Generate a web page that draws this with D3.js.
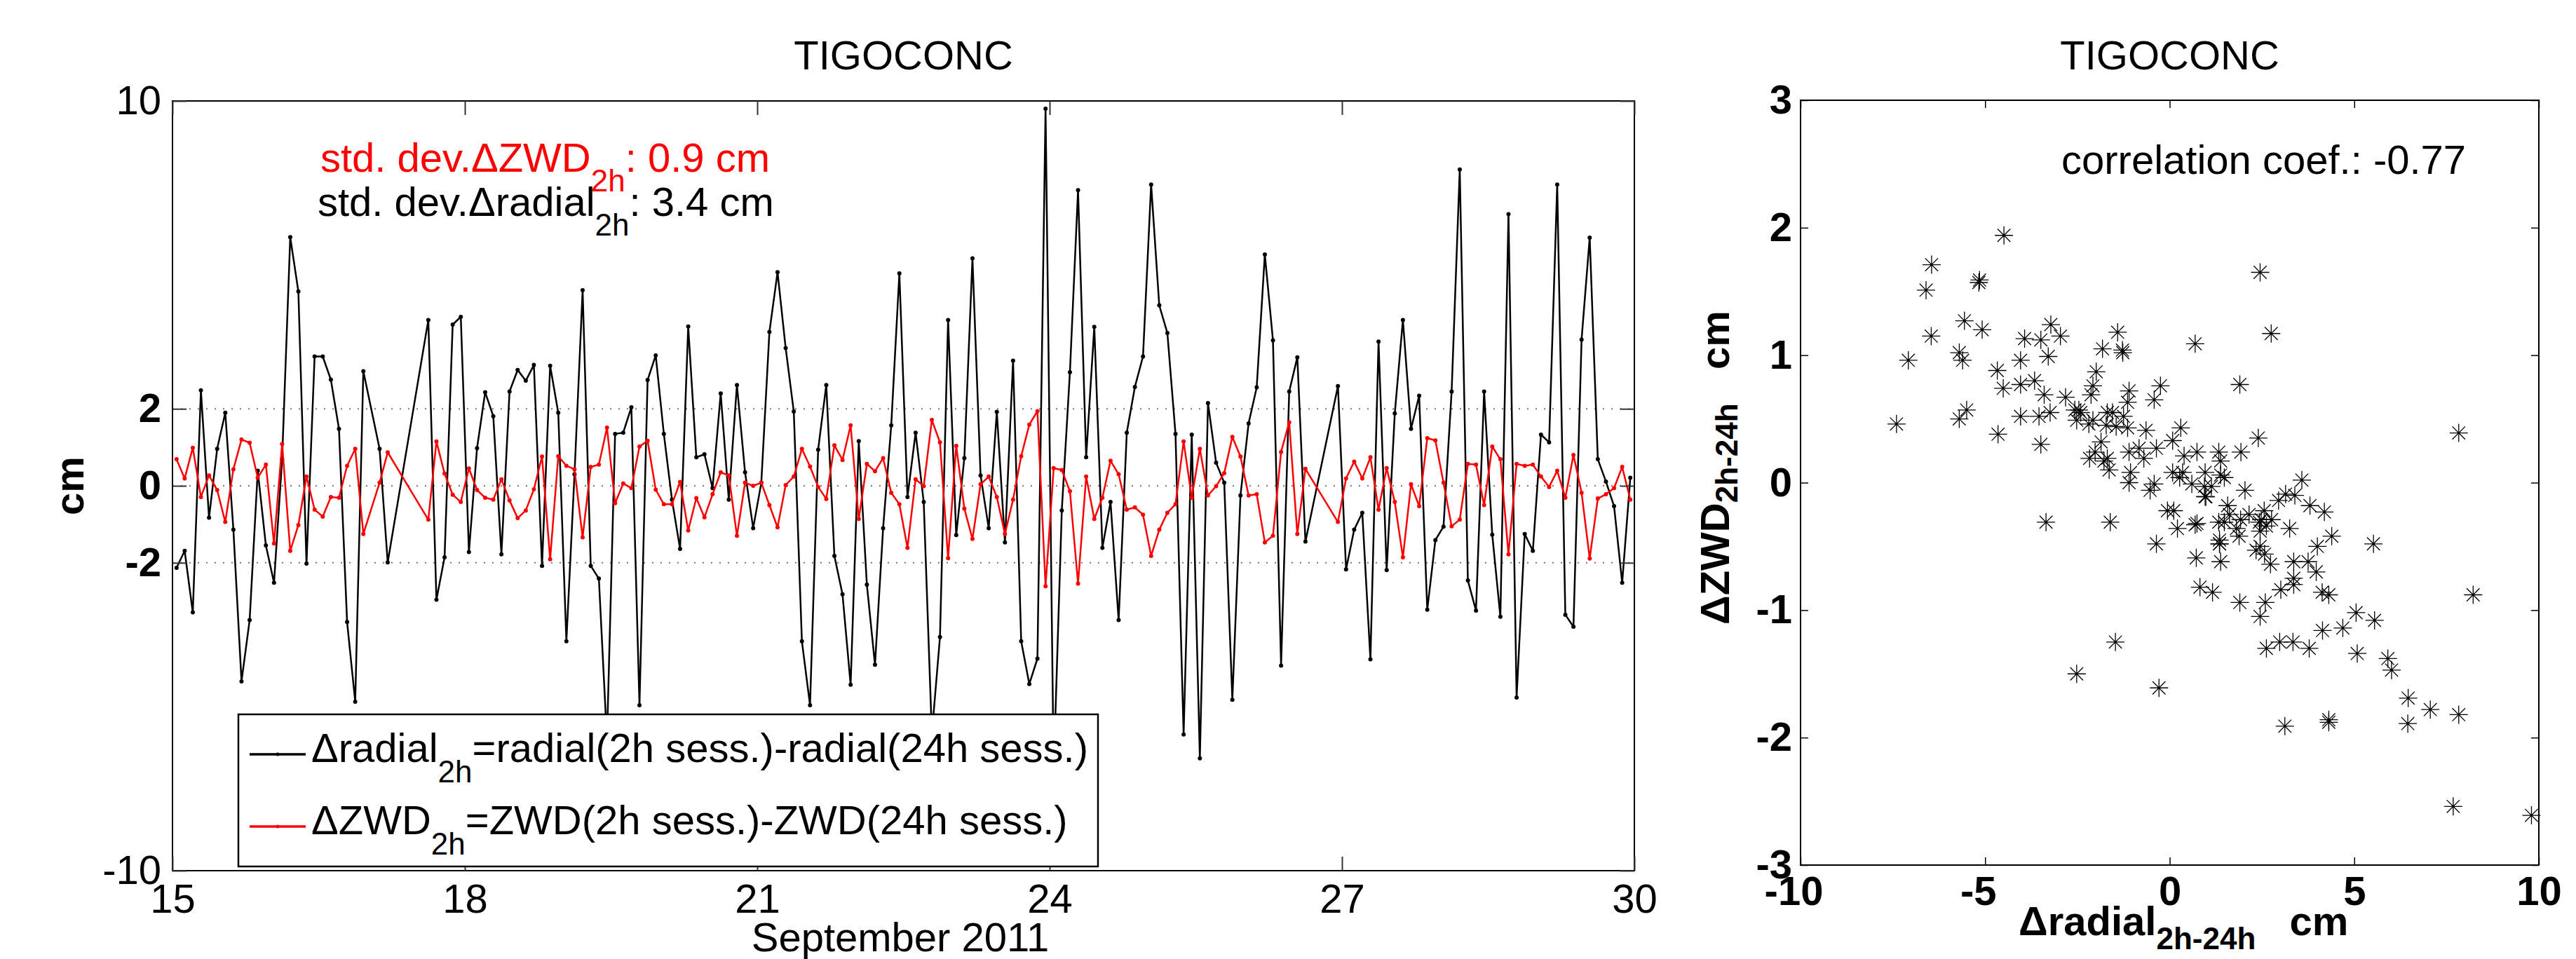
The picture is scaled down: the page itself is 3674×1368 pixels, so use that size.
<!DOCTYPE html>
<html>
<head>
<meta charset="utf-8">
<script src="https://cdn.jsdelivr.net/npm/d3@7"></script>
<style>
  body { margin: 0; background: #fff; }
  text { font-family: "Liberation Sans", Arial, Helvetica, sans-serif; }
</style>
</head>
<body>
<svg id="chart"></svg>
<script>
var width = 3674
var height = 1368

// 2h sessions, 15-30 September 2011 (12 per day), null = no session
var radial = [
  -2.13, -1.69, -3.29, 2.48, -0.83, 0.96, 1.90, -1.14, -5.08, -3.49, 0.39, -1.55,
  -2.52, 0.69, 6.46, 5.05, -2.02, 3.36, 3.36, 2.76, 1.48, -3.54, -5.61, 2.98,
  null, 0.96, -1.99, null, null, null, null, 4.31, -2.96, -1.86, 4.19, 4.39,
  -1.72, 0.98, 2.43, 1.81, -1.78, 2.45, 3.01, 2.73, 3.14, -2.08, 3.12, 1.90,
  -4.04, 0.30, 5.08, -2.08, -2.41, -6.60, 1.35, 1.38, 2.04, -5.70, 2.75, 3.39,
  1.35, -0.36, -1.64, 4.14, 0.74, 0.82, -0.06, 2.40, -0.36, 2.62, 0.35, -1.10,
  0.08, 4.00, 5.55, 3.58, 1.93, -4.04, -5.70, 0.94, 2.62, -1.82, -2.82, -5.17,
  1.16, -2.57, -4.65, -1.10, 1.57, 5.52, -0.29, 1.38, -0.42, -6.45, -3.93, 4.31,
  -1.28, 0.72, 5.91, 0.27, -1.10, 1.92, -1.47, 3.25, -4.04, -5.15, -4.49, 9.80,
  -7.40, -0.64, 2.95, 7.68, 0.74, 4.13, -1.61, -0.42, -3.49, 1.38, 2.57, 3.36,
  7.83, 4.69, 3.97, 1.35, -6.46, 1.33, -7.08, 2.15, 0.60, 0.08, -5.56, -0.25,
  1.62, 2.56, 6.01, 3.78, -4.67, 2.45, 3.34, -1.45, null, null, null, 2.59,
  -2.17, -1.14, -0.70, -4.51, 3.75, -2.19, 1.88, 4.31, 1.48, 2.34, -3.22, -1.41,
  -1.06, 2.45, 8.22, -2.46, -3.24, 2.45, -1.27, -3.40, 7.06, -5.50, -1.25, -1.69,
  1.33, 1.13, 7.83, -3.35, -3.66, 3.80, 6.45, 0.69, 0.11, -0.53, -2.52, 0.21
]
var zwd = [
  0.69, 0.19, 0.99, -0.29, 0.27, -0.11, -0.94, 0.43, 1.20, 1.12, 0.21, 0.55,
  -1.50, 1.09, -1.69, -1.02, 0.24, -0.62, -0.80, -0.29, -0.31, 0.52, 0.96, -1.25,
  null, 0.08, 0.87, null, null, null, null, -0.88, 1.15, 0.32, -0.23, -0.42,
  0.45, -0.11, -0.31, -0.36, 0.17, -0.38, -0.84, -0.64, -0.09, 0.76, -1.91, 0.77,
  0.52, 0.43, -1.34, 0.49, 0.55, 1.51, -0.45, 0.06, -0.06, 1.02, 1.17, -0.10,
  -0.48, -0.48, 0.10, -1.16, -0.32, -0.82, -0.22, 0.35, 0.27, -1.30, 0.08, 0.00,
  0.08, -0.50, -1.08, 0.02, 0.24, 0.96, 0.50, -0.03, -0.34, 1.05, 0.67, 1.57,
  -0.86, 0.57, 0.38, 0.72, -0.18, -0.48, -1.61, 0.17, -0.01, 1.71, 1.13, -1.88,
  1.04, -0.59, -1.38, 0.04, 0.24, -0.29, -1.25, -0.36, 0.77, 1.59, 1.94, -2.61,
  0.46, 0.41, -0.14, -2.54, 0.24, -0.86, -0.31, 0.65, 0.30, -0.62, -0.56, -0.75,
  -1.82, -1.14, -0.70, -0.48, 1.15, -0.31, 0.96, -0.25, -0.01, 0.33, 1.27, 0.76,
  -0.25, -0.22, -1.47, -1.30, 0.88, 1.65, -1.25, 0.44, null, null, null, -0.94,
  0.19, 0.63, 0.19, 0.74, -0.62, 0.46, -0.42, -1.86, 0.04, -0.53, 1.24, 1.18,
  0.08, -1.05, -0.88, 0.57, 0.55, -0.50, 1.02, 0.69, -1.78, 0.57, 0.52, 0.55,
  0.24, -0.03, 0.39, -0.31, 0.80, -0.18, -1.89, -0.33, -0.22, -0.06, 0.49, -0.36
]
var firstDay = 15
var sessionHours = 2

var dayTicks = [15, 18, 21, 24, 27, 30]
var cmTicks = [10, 2, 0, -2, -10]
var gridValues = [2, 0, -2]
var scatterXTicks = [-10, -5, 0, 5, 10]
var scatterYTicks = [3, 2, 1, 0, -1, -2, -3]

var stationName = "TIGOCONC"
var stdZwd = "0.9"
var stdRadial = "3.4"
var corrCoef = "-0.77"

var sessions = radial.map((r, i) => ({
  day: firstDay + (i * sessionHours + sessionHours / 2) / 24,
  radial: r,
  zwd: zwd[i]
})).filter(d => d.radial != null && d.zwd != null)

var svg = d3.select("#chart").attr("width", width).attr("height", height)
svg.append("rect").attr("width", width).attr("height", height).attr("fill", "#fff")

var FS = 58
var plain = d => String(d)   // hyphen minus like the original

// text with subscripts: parts = [[text, isSub], ...]
function richText(g, x, y, parts, opts) {
  opts = opts || {}
  var t = g.append("text").attr("x", x).attr("y", y)
    .attr("font-size", FS)
    .attr("fill", opts.fill || "#000")
    .attr("font-weight", opts.bold ? "bold" : "normal")
    .style("white-space", "pre")
  if (opts.transform) t.attr("transform", opts.transform)
  var shift = opts.subShift || 28
  var down = false
  parts.forEach(p => {
    var s = t.append("tspan").text(p[0])
    if (p[1]) { s.attr("font-size", 44); if (!down) { s.attr("dy", shift); down = true } }
    else if (down) { s.attr("dy", -shift); down = false }
  })
  return t
}

/* ---------- left: time series ---------- */
var L = { left: 246, right: 2331, top: 144, bottom: 1242 }
var x = d3.scaleLinear().domain([15, 30]).range([L.left, L.right])
var y = d3.scaleLinear().domain([-10, 10]).range([L.bottom, L.top])

var left = svg.append("g")

left.selectAll(".grid").data(gridValues).enter().append("line")
  .attr("x1", L.left).attr("x2", L.right)
  .attr("y1", d => y(d)).attr("y2", d => y(d))
  .attr("stroke", "#777").attr("stroke-width", 2).attr("stroke-dasharray", "2,10")

svg.append("clipPath").attr("id", "clipL").append("rect")
  .attr("x", L.left).attr("y", L.top).attr("width", L.right - L.left).attr("height", L.bottom - L.top)

var plot = left.append("g").attr("clip-path", "url(#clipL)")

function drawSeries(key, color) {
  var line = d3.line().x(d => x(d.day)).y(d => y(d[key]))
  plot.append("path").datum(sessions)
    .attr("d", line).attr("fill", "none")
    .attr("stroke", color).attr("stroke-width", 2.5).attr("stroke-linejoin", "round")
  plot.selectAll(".dot-" + key).data(sessions).enter().append("circle")
    .attr("class", "dot-" + key)
    .attr("cx", d => x(d.day)).attr("cy", d => y(d[key])).attr("r", 3)
    .attr("fill", color)
}
drawSeries("radial", "#000")
drawSeries("zwd", "#ff0000")

// axes box
left.append("rect").attr("x", L.left).attr("y", L.top)
  .attr("width", L.right - L.left).attr("height", L.bottom - L.top)
  .attr("fill", "none").attr("stroke", "#000").attr("stroke-width", 2)

var xAxisB = left.append("g").attr("transform", "translate(0," + L.bottom + ")")
  .call(d3.axisBottom(x).tickValues(dayTicks).tickSizeInner(-20).tickSizeOuter(0).tickPadding(19).tickFormat(plain))
var xAxisT = left.append("g").attr("transform", "translate(0," + L.top + ")")
  .call(d3.axisTop(x).tickValues(dayTicks).tickSizeInner(-20).tickSizeOuter(0).tickFormat(""))
var yAxisL = left.append("g").attr("transform", "translate(" + L.left + ",0)")
  .call(d3.axisLeft(y).tickValues(cmTicks).tickSizeInner(-20).tickSizeOuter(0).tickPadding(16).tickFormat(plain))
var yAxisR = left.append("g").attr("transform", "translate(" + L.right + ",0)")
  .call(d3.axisRight(y).tickValues(cmTicks).tickSizeInner(-20).tickSizeOuter(0).tickFormat(""))

;[xAxisB, xAxisT, yAxisL, yAxisR].forEach(a => {
  a.select(".domain").remove()
  a.selectAll("line").attr("stroke", "#333").attr("stroke-width", 2)
  a.selectAll("text").attr("font-size", FS).attr("fill", "#000")
    .attr("font-family", "Liberation Sans, Arial, sans-serif")
})
yAxisL.selectAll("text").attr("font-weight", d => Math.abs(d) < 10 ? "bold" : "normal")

left.append("text").attr("x", (L.left + L.right) / 2).attr("y", 99)
  .attr("text-anchor", "middle").attr("font-size", FS).text(stationName)
left.append("text").attr("x", 1284).attr("y", 1357)
  .attr("text-anchor", "middle").attr("font-size", FS).text("September 2011")
left.append("text").attr("transform", "translate(119,693) rotate(-90)")
  .attr("text-anchor", "middle").attr("font-size", FS).attr("font-weight", "bold").text("cm")

richText(left, 457, 245, [["std. dev.\u0394ZWD"], ["2h", true], [": " + stdZwd + " cm"]], { fill: "#ff0000" })
richText(left, 453, 308, [["std. dev.\u0394radial"], ["2h", true], [": " + stdRadial + " cm"]])

// legend
var lg = left.append("g")
lg.append("rect").attr("x", 340).attr("y", 1019).attr("width", 1226).attr("height", 217)
  .attr("fill", "#fff").attr("stroke", "#000").attr("stroke-width", 2.5)
var legendItems = [
  { color: "#000", y: 1076, parts: [["\u0394radial"], ["2h", true], ["=radial(2h sess.)-radial(24h sess.)"]] },
  { color: "#ff0000", y: 1179, parts: [["\u0394ZWD"], ["2h", true], ["=ZWD(2h sess.)-ZWD(24h sess.)"]] }
]
legendItems.forEach(it => {
  lg.append("line").attr("x1", 356).attr("x2", 436).attr("y1", it.y).attr("y2", it.y)
    .attr("stroke", it.color).attr("stroke-width", 3.5)
  lg.append("circle").attr("cx", 396).attr("cy", it.y).attr("r", 2.5).attr("fill", it.color)
  richText(lg, 444, it.y + 11, it.parts, { subShift: 29 })
})

/* ---------- right: scatter ---------- */
var R = { left: 2568, right: 3621, top: 143, bottom: 1234 }
var xs = d3.scaleLinear().domain([-10, 10]).range([R.left, R.right])
var ys = d3.scaleLinear().domain([-3, 3]).range([R.bottom, R.top])

var right = svg.append("g")
svg.append("clipPath").attr("id", "clipR").append("rect")
  .attr("x", R.left - 20).attr("y", R.top).attr("width", R.right - R.left + 40).attr("height", R.bottom - R.top)

var star = "M0,-13V13M-13,0H13M-9.2,-9.2L9.2,9.2M-9.2,9.2L9.2,-9.2"
right.append("g").attr("clip-path", "url(#clipR)")
  .selectAll("path").data(sessions).enter().append("path")
  .attr("transform", d => "translate(" + xs(d.radial) + "," + ys(d.zwd) + ")")
  .attr("d", star).attr("fill", "none").attr("stroke", "#000").attr("stroke-width", 1.3)

right.append("rect").attr("x", R.left).attr("y", R.top)
  .attr("width", R.right - R.left).attr("height", R.bottom - R.top)
  .attr("fill", "none").attr("stroke", "#000").attr("stroke-width", 2)

var sxB = right.append("g").attr("transform", "translate(0," + R.bottom + ")")
  .call(d3.axisBottom(xs).tickValues(scatterXTicks).tickSizeInner(-11).tickSizeOuter(0).tickPadding(16).tickFormat(plain))
var sxT = right.append("g").attr("transform", "translate(0," + R.top + ")")
  .call(d3.axisTop(xs).tickValues(scatterXTicks).tickSizeInner(-11).tickSizeOuter(0).tickFormat(""))
var syL = right.append("g").attr("transform", "translate(" + R.left + ",0)")
  .call(d3.axisLeft(ys).tickValues(scatterYTicks).tickSizeInner(-11).tickSizeOuter(0).tickPadding(12).tickFormat(plain))
var syR = right.append("g").attr("transform", "translate(" + R.right + ",0)")
  .call(d3.axisRight(ys).tickValues(scatterYTicks).tickSizeInner(-11).tickSizeOuter(0).tickFormat(""))

;[sxB, sxT, syL, syR].forEach(a => {
  a.select(".domain").remove()
  a.selectAll("line").attr("stroke", "#000").attr("stroke-width", 1.5)
  a.selectAll("text").attr("font-size", FS).attr("font-weight", "bold").attr("fill", "#000")
    .attr("font-family", "Liberation Sans, Arial, sans-serif")
})
sxB.selectAll("text").attr("dx", d => d < 0 ? -10 : 0)

right.append("text").attr("x", (R.left + R.right) / 2).attr("y", 99)
  .attr("text-anchor", "middle").attr("font-size", FS).text(stationName)
right.append("text").attr("x", 2940).attr("y", 248)
  .attr("font-size", FS).text("correlation coef.: " + corrCoef)

richText(right, 2879, 1334, [["\u0394radial"], ["2h-24h", true], ["   cm"]], { bold: true, subShift: 20 })
richText(right, 0, 0, [["\u0394ZWD"], ["2h-24h", true], ["   cm"]],
  { bold: true, subShift: 12, transform: "translate(2466,891) rotate(-90)" })
</script>
</body>
</html>
